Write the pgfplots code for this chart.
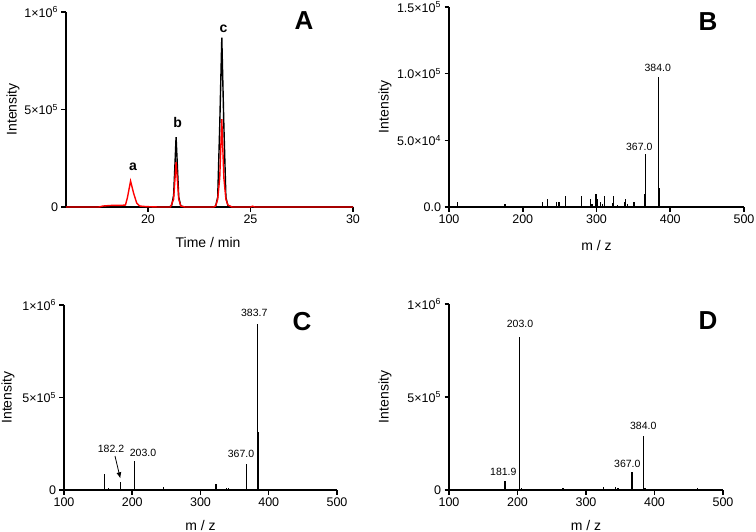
\documentclass[border=0pt]{standalone}
\usepackage{pgfplots}
\pgfplotsset{compat=1.18}
\usetikzlibrary{arrows.meta}
\usepackage{fontspec}
\setmainfont{Liberation Sans}

\pgfplotsset{
 panel/.style={
  scale only axis, axis lines=left, axis line style={-, line width=1.7pt},
  tick align=outside, major tick length=4.5pt, tick style={line width=1.5pt, black},
  enlargelimits=false, clip=false, scaled y ticks=false, scaled x ticks=false,
  /pgf/number format/assume math mode=true,
  tick label style={font=\fontsize{12.5}{14}\selectfont},
  label style={font=\fontsize{14}{16}\selectfont},
  ylabel={Intensity},
  minor tick num=0,
 },
 stick/.style={ycomb, black, line width=1.5pt, mark=none},
}
\newcommand{\ann}{\fontsize{10.5}{12}\selectfont}
\newcommand{\pl}{\fontsize{26}{28}\selectfont\bfseries}

\begin{document}
\begin{tikzpicture}
\path[use as bounding box] (0,0) rectangle (756pt,-532pt);

% Panel A
\begin{axis}[panel, at={(66pt,-207pt)}, anchor=south west, width=287pt, height=195pt,
  xmin=16, xmax=30, ymin=0, ymax=1000000,
  xtick={20,25,30}, ytick={0,500000,1000000},
  yticklabels={0,5×10\textsuperscript{5},1×10\textsuperscript{6}},
  xlabel={Time / min},
  xlabel style={at={(axis description cs:0.495,-0.18)}, anchor=center},
  ylabel style={at={(axis description cs:-0.185,0.5)}, anchor=center}]
\addplot[black, line width=1.4pt, mark=none] coordinates {
(16,0)(21.0,0)(21.15,5000)(21.25,60000)(21.3,180000)(21.37,358000)(21.45,170000)(21.5,50000)(21.6,5000)(21.8,0)
(23.2,0)(23.3,5000)(23.4,50000)(23.5,420000)(23.6,868000)(23.7,420000)(23.8,50000)(23.9,5000)(24.1,0)(30,0)};
\addplot[red, line width=1.4pt, mark=none] coordinates {
(16,0)(17.6,0)(17.8,5000)(18.2,8000)(18.6,8000)(18.9,10000)(19.0,50000)(19.15,133000)(19.3,70000)(19.45,20000)(19.6,5000)(19.9,2000)(20.5,0)
(21.1,0)(21.25,40000)(21.37,230000)(21.5,40000)(21.6,5000)(21.8,0)
(23.2,0)(23.3,5000)(23.4,40000)(23.5,150000)(23.6,450000)(23.7,150000)(23.8,40000)(23.9,10000)(24.1,0)
(25.0,0)(25.1,4000)(25.2,0)(30,0)};
\node[font=\fontsize{14}{16}\selectfont\bfseries] at (axis cs:19.27,207000) {a};
\node[font=\fontsize{14}{16}\selectfont\bfseries] at (axis cs:21.45,431000) {b};
\node[font=\fontsize{14}{16}\selectfont\bfseries] at (axis cs:23.68,913000) {c};
\node[font=\pl] at (rel axis cs:0.829,0.954) {A};
\end{axis}

% Panel B
\begin{axis}[panel, at={(449pt,-207pt)}, anchor=south west, width=295pt, height=200pt,
  xmin=100, xmax=500, ymin=0, ymax=150000,
  xtick={100,200,300,400,500}, ytick={0,50000,100000,150000},
  yticklabels={0.0,5.0×10\textsuperscript{4},1.0×10\textsuperscript{5},1.5×10\textsuperscript{5}},
  xlabel={m / z},
  xlabel style={at={(axis description cs:0.5,-0.19)}, anchor=center},
  ylabel style={at={(axis description cs:-0.217,0.5)}, anchor=center}]
\addplot[stick] coordinates {
(111.7,4000)(176,2000)(227,4000)(233.8,5750)(246,4000)(249,4000)(257.7,8000)(279.4,8000)
(291.6,5750)(294,2000)(299.3,10000)(301.6,5750)(305.6,4000)(307.9,2000)(311,8000)
(321.5,3000)(323.3,8000)(328.2,1500)(337.7,4000)(339.6,5750)(341.8,2000)(350.8,3500)
(364.8,10000)(366.7,40000)(383.8,97500)(385.2,14500)};
\node[font=\ann] at (axis cs:383,104500) {384.0};
\node[font=\ann] at (axis cs:358,44800) {367.0};
\node[font=\pl] at (rel axis cs:0.878,0.925) {B};
\end{axis}

% Panel C
\begin{axis}[panel, at={(64pt,-490pt)}, anchor=south west, width=273pt, height=185pt,
  xmin=100, xmax=500, ymin=0, ymax=1000000,
  xtick={100,200,300,400,500}, ytick={0,500000,1000000},
  yticklabels={0,5×10\textsuperscript{5},1×10\textsuperscript{6}},
  xlabel={m / z},
  xlabel style={at={(axis description cs:0.5,-0.19)}, anchor=center},
  ylabel style={at={(axis description cs:-0.205,0.5)}, anchor=center}]
\addplot[stick] coordinates {
(112.2,5000)(130.8,8000)(146.9,5000)(159.6,86000)(165.5,10000)(182.5,45000)(203.5,155000)(207,5000)
(219.7,5000)(246,15000)(260.4,8000)(264.3,8000)(282.7,8000)(300,5000)(322.7,30000)(326,8000)
(337.8,12000)(341.3,10000)(345,5000)(367.6,141000)(383.3,896000)(385,312000)};
\node[font=\ann] at (axis cs:378.8,958000) {383.7};
\node[font=\ann] at (axis cs:359.3,193000) {367.0};
\node[font=\ann] at (axis cs:215.7,202000) {203.0};
\node[font=\ann] at (axis cs:168.9,223000) {182.2};
\draw[-{Latex[length=6pt,width=5pt]}, line width=0.8pt] (axis cs:174.7,184000) -- (axis cs:182.5,63000);
\node[font=\pl] at (rel axis cs:0.872,0.908) {C};
\end{axis}

% Panel D
\begin{axis}[panel, at={(449pt,-490pt)}, anchor=south west, width=274pt, height=186pt,
  xmin=100, xmax=500, ymin=0, ymax=1000000,
  xtick={100,200,300,400,500}, ytick={0,500000,1000000},
  yticklabels={0,5×10\textsuperscript{5},1×10\textsuperscript{6}},
  xlabel={m / z},
  xlabel style={at={(axis description cs:0.5,-0.19)}, anchor=center},
  ylabel style={at={(axis description cs:-0.234,0.5)}, anchor=center}]
\addplot[stick] coordinates {
(129.7,5000)(159.9,5000)(165,5000)(181.8,48000)(203.2,824000)(205.5,10000)(246,5000)(266.4,10000)
(285,5000)(300,6000)(325.3,15000)(342.8,15000)(347,10000)(352,8000)(367.2,99000)(384.2,290000)
(386,10000)(463,12000)};
\node[font=\ann] at (axis cs:203.6,891000) {203.0};
\node[font=\ann] at (axis cs:179.3,97000) {181.9};
\node[font=\ann] at (axis cs:360.3,140000) {367.0};
\node[font=\ann] at (axis cs:383.6,344000) {384.0};
\node[font=\pl] at (rel axis cs:0.945,0.909) {D};
\end{axis}
\end{tikzpicture}
\end{document}
